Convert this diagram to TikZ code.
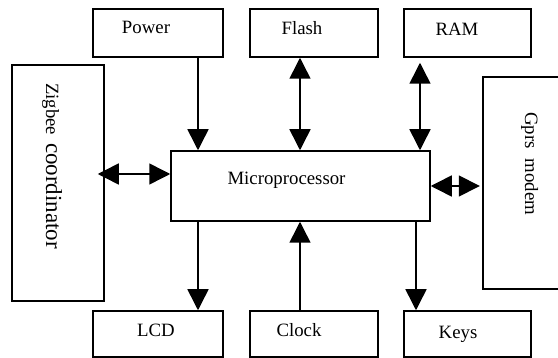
\documentclass[tikz,border=0pt]{standalone}
\usepackage{fontspec}
\setmainfont{Liberation Serif}
\usetikzlibrary{arrows.meta}
\begin{document}
\begin{tikzpicture}[x=1pt,y=-1pt,
  blk/.style={draw=black, line width=1.5pt, inner sep=0pt, rectangle},
  frame/.style={inner sep=0pt, rectangle},
  lbl/.style={inner sep=0pt, anchor=base, font=\fontsize{18.8}{22}\selectfont},
  rlbl/.style={inner sep=0pt, anchor=base west, rotate=-90},
  con/.style={line width=1.5pt, -{Triangle[length=21pt,width=21pt]}},
  bicon/.style={line width=1.5pt, {Triangle[length=21pt,width=21pt]}-{Triangle[length=21pt,width=21pt]}},
  edge/.style={line width=1.5pt}]
\useasboundingbox (0,0) rectangle (558,358);
% boxes
\node[blk, minimum width=130pt, minimum height=48pt] (pow) at (158,33) {};
\node[blk, minimum width=128pt, minimum height=48pt] (fla) at (314,33) {};
\node[blk, minimum width=127pt, minimum height=48pt] (ram) at (467.5,33) {};
\node[blk, minimum width=130pt, minimum height=46pt] (lcd) at (158,334) {};
\node[blk, minimum width=128pt, minimum height=46pt] (clk) at (314,334) {};
\node[blk, minimum width=127pt, minimum height=46pt] (key) at (467.5,334) {};
\node[blk, minimum width=92pt, minimum height=236pt] (zig) at (58,183) {};
\node[blk, minimum width=259pt, minimum height=70pt] (mp) at (300.5,186) {};
\node[frame, minimum width=75pt, minimum height=212pt] (gp) at (520.5,183) {};
\draw[edge] (gp.north east) -- (gp.north west) -- (gp.south west) -- (gp.south east);
% labels
\node[lbl] (powt) at (146,33.5) {Power};
\node[lbl] (flat) at (302,35) {Flash};
\node[lbl] (ramt) at (457,36) {RAM};
\node[lbl] (lcdt) at (156,337) {LCD};
\node[lbl] (clkt) at (299,337) {Clock};
\node[lbl] (keyt) at (458,338.5) {Keys};
\node[lbl] (mpt) at (286.5,185) {Microprocessor};
\node[rlbl] (zigt) at (46,83) {{\fontsize{18.7}{22}\selectfont Zigbee}\hspace{8pt}{\fontsize{23}{26}\selectfont coordinator}};
\node[rlbl] (gpt) at (525,112) {\fontsize{18.8}{22}\selectfont Gprs\hspace{10pt}modem};
% connectors
\draw[con] ([xshift=40pt]pow.south) -- ([xshift=40pt]pow.south |- mp.north);
\draw[bicon] ([xshift=-14pt]fla.south) -- ([xshift=-14pt]fla.south |- mp.north);
\draw[bicon] ([xshift=-47.5pt,yshift=-5pt]ram.south) -- ([xshift=-47.5pt]ram.south |- mp.north);
\draw[bicon] ([xshift=-7pt,yshift=12pt]mp.west -| zig.east) -- ([yshift=12pt]mp.west);
\draw[bicon] (mp.east) -- ([xshift=-3pt]mp.east -| gp.west);
\draw[con] ([xshift=40pt]lcd.north |- mp.south) -- ([xshift=40pt]lcd.north);
\draw[con] ([xshift=-14pt]clk.north) -- ([xshift=-14pt]clk.north |- mp.south);
\draw[con] ([xshift=-51.5pt]key.north |- mp.south) -- ([xshift=-51.5pt]key.north);
\end{tikzpicture}
\end{document}
